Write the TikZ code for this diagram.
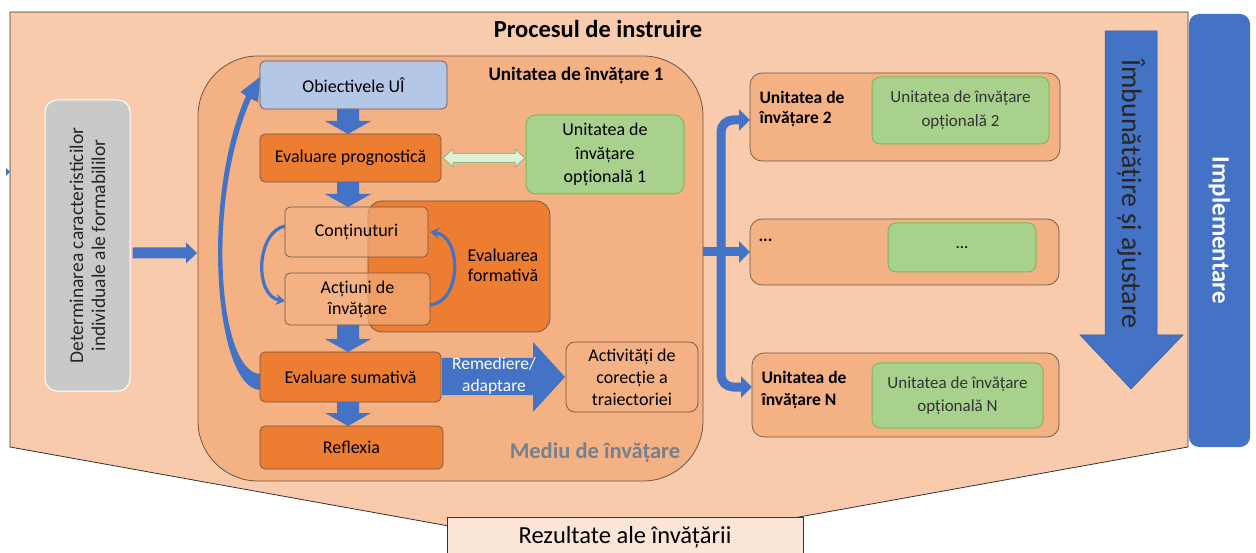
\documentclass[tikz,border=0pt]{standalone}
\usepackage{fontspec}
\setmainfont{Carlito}
\usetikzlibrary{arrows.meta,calc}
\definecolor{outerpch}{HTML}{F8CBAD}
\definecolor{pch}{HTML}{F4B183}
\definecolor{orng}{HTML}{ED7D31}
\definecolor{ablue}{HTML}{4472C4}
\definecolor{lblue}{HTML}{B4C7E7}
\definecolor{greyb}{HTML}{C9C9C9}
\definecolor{grn}{HTML}{A9D18E}
\definecolor{grnb}{HTML}{7DBA55}
\definecolor{lgrn}{HTML}{E2F0D9}
\definecolor{rez}{HTML}{FBE5D6}
\definecolor{bord}{HTML}{6E5545}
\definecolor{mediu}{HTML}{76808C}
\newcommand\fs[2]{\fontsize{#1}{#2}\selectfont}
\tikzset{
  box/.style={draw=bord, line width=0.7pt, rounded corners=5pt, inner sep=0pt, outer sep=0pt, align=center, font=\fs{18}{21}},
  obox/.style={box, fill=orng},
  pbox/.style={box, fill=pch},
  gbox/.style={draw=grnb, line width=1pt, fill=grn, rounded corners=8pt, inner sep=0pt, outer sep=0pt, align=center},
  branch/.style={draw=ablue, line width=9pt, rounded corners=12pt},
  btip/.style={-{Triangle[length=11pt,width=21pt]}},
}
\newcommand\bdown[2]{%
  \fill[ablue] ($(ax |- #1.south)+(-11,0)$) -- ($(ax |- #2.north)+(-11,-13)$) -- ($(ax |- #2.north)+(-23,-13)$) -- (ax |- #2.north) -- ($(ax |- #2.north)+(23,-13)$) -- ($(ax |- #2.north)+(11,-13)$) -- ($(ax |- #1.south)+(11,0)$) -- cycle;}
\begin{document}
\begin{tikzpicture}[x=1pt,y=-1pt]
\useasboundingbox (0,0) rectangle (1256,553);
% outer pentagon
\draw[fill=outerpch, draw=black!80, line width=0.8pt] (10,12) -- (1188,12) -- (1188,447) -- (599,553) -- (10,447) -- cycle;
\fill[ablue] (6,168) -- (10,172) -- (6,176) -- cycle;
\node[font=\bfseries\fs{24.5}{28}] (title) at (598,29) {Procesul de instruire};
% Implementare
\node[fill=ablue, rounded corners=10pt, minimum width=61pt, minimum height=433pt, inner sep=0pt] (impl) at (1219.5,230.5) {};
\node[rotate=-90, text=white, font=\bfseries\fs{25}{28}] at (impl.center) {Implementare};
% Imbunatatire arrow
\draw[fill=ablue, draw=ablue!80!black, line width=0.5pt] (1105,31) -- (1157,31) -- (1157,335) -- (1183,335) -- (1131,389) -- (1080,335) -- (1105,335) -- cycle;
\node[rotate=-90, text=black!85, font=\fs{28}{32}] (imb) at (1131,194) {Îmbunătățire și ajustare};
% Rezultate
\node[draw=black!80, line width=0.8pt, fill=rez, minimum width=356pt, minimum height=44pt, inner sep=0pt, anchor=north west] (rez) at (447,517) {};
\node[font=\fs{24.5}{28}] at (625,537) {Rezultate ale învățării};
% grey box
\node[draw=white, line width=1pt, fill=greyb, rounded corners=12pt, minimum width=85pt, minimum height=291pt, inner sep=0pt] (grey) at (87.5,245.5) {};
\node[rotate=90, align=center, font=\fs{19.5}{22}, text=black!85] at (grey.center) {Determinarea caracteristicilor\\individuale ale formabililor};
% big box
\node[draw=bord, line width=0.8pt, fill=pch, rounded corners=60pt, minimum width=505pt, minimum height=425pt, inner sep=0pt] (big) at (450.5,268.5) {};
\node[font=\bfseries\fs{19}{22}] at (576,76) {Unitatea de învățare 1};
\node[font=\bfseries\fs{22.5}{26}, text=mediu] at (595,453) {Mediu de învățare};
% arrow grey -> big
\fill[ablue] ($(grey.east |- 0,253)+(2,-5.5)$) -- (186,247.5) -- (186,242.5) -- (197,253) -- (186,263.5) -- (186,258.5) -- ($(grey.east |- 0,253)+(2,5.5)$) -- cycle;
% inner nodes
\node[box, fill=lblue, minimum width=187pt, minimum height=48pt] (obj) at (353.5,85) {Obiectivele UÎ};
\node[obox, minimum width=181pt, minimum height=48pt] (prog) at (350.5,158) {Evaluare prognostică};
\node[obox, rounded corners=14pt, minimum width=182pt, minimum height=131pt] (form) at (459,266.5) {};
\node[font=\fs{18}{20}, align=center] at (503,265) {Evaluarea\\formativă};
\node[box, fill=pch, fill opacity=0.65, text opacity=1, minimum width=143pt, minimum height=50pt] (cont) at (356.5,232) {Conținuturi};
\node[box, fill=pch, fill opacity=0.65, text opacity=1, minimum width=145pt, minimum height=52pt] (act) at (357.5,299) {Acțiuni de\\învățare};
\node[obox, minimum width=181pt, minimum height=50pt] (sum) at (350.5,377) {Evaluare sumativă};
\node[obox, minimum width=183pt, minimum height=43pt] (refl) at (351.5,447.5) {Reflexia};
\node[gbox, rounded corners=10pt, font=\fs{18}{23.5}, minimum width=158pt, minimum height=79pt] (opt1) at (605,154.5) {Unitatea de\\învățare\\opțională 1};
\node[box, rounded corners=9pt, fill=pch, font=\fs{18}{22}, minimum width=132pt, minimum height=70pt] (corr) at (632,377) {Activități de\\corecție a\\traiectoriei};
% block down arrows
\coordinate (ax) at (348,0);
\bdown{obj}{prog}
\bdown{prog}{cont}
\bdown{act}{sum}
\bdown{sum}{refl}
% green double arrow
\draw[fill=lgrn, draw=grn!90!black, line width=1pt]
  ($(prog.east)+(2,0)$) -- ($(prog.east)+(12,-9)$) -- ($(prog.east)+(12,-4.5)$) -- ($(opt1.west |- prog.east)+(-11,-4.5)$) -- ($(opt1.west |- prog.east)+(-11,-9)$) -- ($(opt1.west |- prog.east)+(-1,0)$) -- ($(opt1.west |- prog.east)+(-11,9)$) -- ($(opt1.west |- prog.east)+(-11,4.5)$) -- ($(prog.east)+(12,4.5)$) -- ($(prog.east)+(12,9)$) -- cycle;
% small curved arrows
\draw[ablue, line width=3.2pt, -{Stealth[length=9pt,width=11pt]}] ($(cont.west)+(0,-6)$) .. controls (256,232) and (254,296) .. ($(act.west)+(0,2)$);
\draw[ablue, line width=3.2pt, -{Stealth[length=9pt,width=11pt]}] ($(act.east)+(0,6)$) .. controls (462,302) and (462,236) .. ($(cont.east)+(2,0)$);
% big curved feedback arrow
\fill[ablue] ($(sum.west)+(0,13)$) .. controls (215,388) and (200,200) .. (246,96) -- (240.5,92) -- ($(obj.west)+(0,-8)$) -- (258,102) -- (251,99) .. controls (206,200) and (218,372) .. ($(sum.west)+(0,-3)$) -- cycle;
% Remediere arrow
\fill[ablue] ($(sum.east)+(1,-19)$) -- ($(corr.west)+(-33,-19)$) -- ($(corr.west)+(-33,-35)$) -- ($(corr.west)+(-1,0)$) -- ($(corr.west)+(-33,35)$) -- ($(corr.west)+(-33,18)$) -- ($(sum.east)+(1,18)$) -- cycle;
\node[text=white, align=center, font=\fs{17.5}{22}] at (494,376) {Remediere/\\adaptare};
% right-side units
\node[box, rounded corners=12pt, fill=pch, minimum width=310pt, minimum height=88pt] (u2) at (905,117) {};
\node[gbox, font=\fs{17}{24}, text=black!80, minimum width=177pt, minimum height=67pt] (u2g) at (960.5,110.5) {Unitatea de învățare\\opțională 2};
\node[anchor=west, align=left, font=\bfseries\fs{17.5}{20}] at (756,109) {Unitatea de\\învățare 2};
\node[box, rounded corners=12pt, fill=pch, minimum width=309pt, minimum height=66pt] (udots) at (904.5,252) {};
\node[gbox, font=\fs{17}{24}, minimum width=148pt, minimum height=49pt] (udotsg) at (962,247.5) {...};
\node[anchor=west, font=\bfseries\fs{17.5}{20}] at (755,240) {...};
\node[box, rounded corners=12pt, fill=pch, minimum width=307pt, minimum height=84pt] (uN) at (905.5,395) {};
\node[gbox, font=\fs{17}{23}, text=black!80, minimum width=171pt, minimum height=65pt] (uNg) at (957.5,395.5) {Unitatea de învățare\\opțională N};
\node[anchor=west, align=left, font=\bfseries\fs{17.5}{22}] at (758,390) {Unitatea de\\învățare N};
% branch arrows
\coordinate (jn) at (721,253);
\draw[branch, btip] (big.east |- udots.west) -- (udots.west);
\draw[branch, btip] (jn) |- ($(u2.west)+(0,3)$);
\draw[branch, btip] (jn) |- ($(uN.west)+(0,-8)$);
\end{tikzpicture}
\end{document}
